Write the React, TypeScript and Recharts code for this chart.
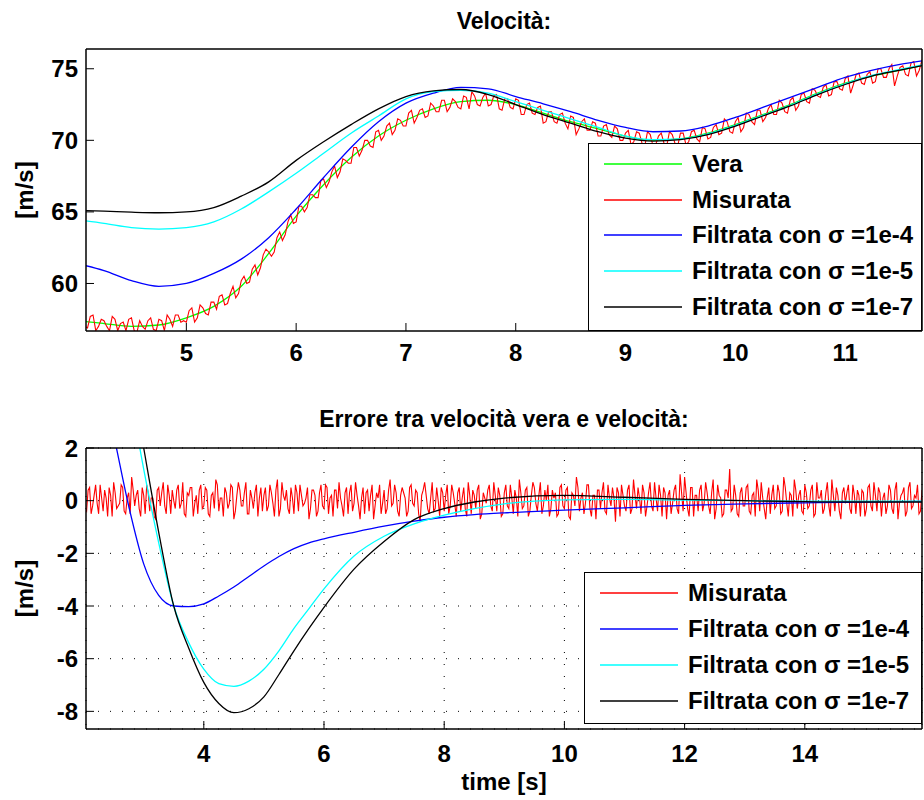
import { LineChart, Line, XAxis, YAxis, CartesianGrid, Legend } from "recharts";

const FONT = '"Liberation Sans", Arial, Helvetica, sans-serif';

// ---- top panel: Velocità ----
const topTicksX = [5, 6, 7, 8, 9, 10, 11];
const topTicksY = [60, 65, 70, 75];
const topTime = [
  4.0, 4.25, 4.5, 4.75, 5.0, 5.25, 5.5, 5.75, 6.0, 6.25, 6.5, 6.75, 7.0, 7.25, 7.5, 7.75,
  8.0, 8.25, 8.5, 8.75, 9.0, 9.25, 9.5, 9.75, 10.0, 10.25, 10.5, 10.75, 11.0, 11.25, 11.5, 11.75,
];
const vera = [
  57.4, 57.2, 57.0, 57.1, 57.6, 58.4, 59.8, 62.1, 64.7, 66.9, 68.8, 70.3, 71.4, 72.2, 72.7, 72.8,
  72.5, 71.9, 71.3, 70.8, 70.3, 70.0, 70.1, 70.5, 71.1, 71.8, 72.5, 73.3, 74.0, 74.5, 74.9, 75.3,
];
const filt4Top = [
  61.4, 60.9, 60.2, 59.8, 60.0, 60.7, 61.7, 63.2, 65.2, 67.4, 69.5, 71.3, 72.6, 73.3, 73.7, 73.6,
  73.06, 72.55, 72.0, 71.4, 70.9, 70.6, 70.65, 71.0, 71.6, 72.3, 73.0, 73.7, 74.4, 74.9, 75.3, 75.6,
];
const filt5Top = [
  64.45, 64.2, 63.9, 63.8, 63.9, 64.3, 65.2, 66.4, 67.7, 69.1, 70.5, 71.7, 72.9, 73.4, 73.5, 73.3,
  72.7, 72.1, 71.5, 70.9, 70.3, 70.05, 70.1, 70.45, 71.05, 71.75, 72.45, 73.25, 73.95, 74.55, 74.95, 75.35,
];
const filt7Top = [
  65.1, 65.05, 64.98, 64.94, 65.0, 65.3, 66.1, 67.1, 68.6, 69.9, 71.1, 72.2, 73.06, 73.45, 73.55, 73.2,
  72.5, 71.8, 71.2, 70.6, 70.15, 69.95, 70.05, 70.4, 71.0, 71.7, 72.4, 73.2, 73.9, 74.5, 74.9, 75.3,
];
// measured speed: samples every 0.05 s from 4.05 s, plus the in-between samples from 4.075 s
const misurataTop = [
  57.7, 56.9, 57.8, 57.0, 57.4, 56.7, 57.5, 57.2, 56.7, 57.6, 56.6, 57.0, 57.4, 56.8, 57.5, 56.7, 57.5, 57.8, 57.3,
  57.3, 58.3, 57.6, 58.3, 57.8, 58.7, 59.1, 58.5, 59.3, 59.0, 60.2, 60.0, 61.0, 60.6, 62.0, 62.2, 62.2, 63.6, 63.4, 64.8,
  64.3, 65.4, 65.3, 66.2, 66.0, 67.3, 67.1, 68.2, 67.8, 68.6, 68.4, 69.5, 69.3, 70.0, 69.5, 70.7, 70.3, 71.2, 70.7, 71.4,
  71.0, 72.1, 71.6, 72.2, 71.7, 72.4, 72.0, 72.8, 72.3, 72.7, 72.2, 73.0, 73.4, 72.5, 73.0, 72.4, 73.1, 72.2, 72.9, 72.3,
  72.9, 71.8, 72.5, 71.9, 72.3, 71.2, 72.0, 71.3, 71.8, 71.2, 71.7, 70.4, 71.3, 70.7, 71.3, 70.3, 71.0, 70.4, 71.0, 70.0,
  70.5, 69.7, 70.6, 69.8, 70.6, 69.6, 70.3, 69.8, 70.6, 69.8, 70.5, 69.7, 70.6, 70.1, 70.9, 70.1, 70.9, 70.4, 71.5, 70.6,
  71.3, 70.6, 71.9, 71.3, 72.1, 71.3, 72.2, 71.8, 72.8, 72.0, 72.8, 72.1, 73.2, 72.7, 73.6, 73.1, 73.7, 73.1, 74.1, 73.6,
  74.3, 73.3, 74.6, 74.0, 74.6, 74.0, 75.0, 74.4, 75.0, 73.8, 75.1, 74.6, 75.4, 74.5, 75.6, 75.1,
];
const misurataTopMid = [
  57.0, 57.7, 56.7, 57.5, 57.0, 57.7, 56.7, 57.3, 57.5, 56.7, 57.4, 56.8, 57.6, 56.7, 57.4, 57.8, 57.0, 57.8, 57.4,
  58.1, 57.3, 58.5, 57.9, 58.7, 58.2, 59.2, 58.6, 59.8, 59.3, 60.5, 60.1, 61.3, 61.1, 62.4, 61.9, 63.2, 63.0, 64.3, 64.2,
  65.4, 65.0, 66.2, 66.0, 67.2, 66.7, 67.8, 67.4, 68.7, 68.4, 69.5, 68.9, 70.0, 69.6, 70.6, 70.0, 71.0, 70.4, 71.5, 71.0,
  71.9, 71.2, 72.1, 71.6, 72.6, 72.0, 72.8, 72.0, 72.9, 72.3, 73.1, 72.2, 73.1, 72.4, 73.3, 72.5, 73.2, 72.1, 72.9, 72.2,
  72.8, 71.8, 72.6, 71.8, 72.4, 71.3, 72.0, 71.2, 71.9, 70.8, 71.6, 70.8, 71.5, 70.7, 71.2, 70.3, 71.1, 70.2, 70.8, 70.0,
  70.7, 69.9, 70.5, 69.6, 70.4, 69.7, 70.5, 69.6, 70.4, 69.6, 70.5, 69.9, 70.7, 69.9, 70.8, 70.2, 71.1, 70.5, 71.3, 70.5,
  71.6, 70.9, 71.8, 71.1, 72.1, 71.6, 72.5, 71.8, 72.6, 71.9, 73.0, 72.4, 73.3, 72.6, 73.5, 73.0, 73.9, 73.2, 74.1, 73.5,
  74.5, 73.9, 74.7, 73.9, 74.8, 74.1, 75.0, 74.4, 75.3, 74.5, 75.2, 74.5, 75.5, 74.9, 75.6,
];

// ---- bottom panel: errore ----
const botTicksX = [4, 6, 8, 10, 12, 14];
const botTicksY = [-8, -6, -4, -2, 0, 2];
const botTime = [
  2.0, 2.25, 2.5, 2.75, 3.0, 3.25, 3.5, 3.75, 4.0, 4.25, 4.5, 4.75, 5.0, 5.25, 5.5, 5.75,
  6.0, 6.5, 7.0, 7.5, 8.0, 8.5, 9.0, 10, 11, 12, 13, 14, 15, 16,
];
const err4 = [
  7.5, 5.0, 2.5, -0.2, -2.4, -3.6, -4.0, -4.02, -3.92, -3.62, -3.28, -2.88, -2.48, -2.12, -1.82, -1.6,
  -1.45, -1.2, -0.97, -0.78, -0.63, -0.53, -0.46, -0.36, -0.27, -0.18, -0.12, -0.08, -0.05, -0.03,
];
const err5 = [
  14, 10.8, 7.6, 4.4, 1.2, -1.6, -4.0, -5.4, -6.4, -6.95, -7.05, -6.85, -6.4, -5.7, -4.85, -4.1,
  -3.35, -2.1, -1.35, -0.88, -0.55, -0.3, -0.12, 0.03, 0.05, 0.02, 0.0, -0.02, -0.02, -0.02,
];
const err7 = [
  15, 11.8, 8.6, 5.3, 2.0, -1.2, -4.0, -5.6, -6.9, -7.7, -8.05, -7.9, -7.45, -6.6, -5.7, -4.85,
  -4.05, -2.6, -1.55, -0.72, -0.3, -0.05, 0.1, 0.2, 0.13, 0.05, 0.0, -0.04, -0.05, -0.05,
];
// measurement error: samples every 0.05 s from 2.0 s, plus the in-between samples from 2.025 s
const errMisurata = [
  0.3, -0.4, 0.5, -0.2, 0.6, -0.5, 0.1, 0.4, -0.6, 0.2, 0.7, -0.3, -0.1, 0.5, -0.5, 0.3, 0.9, -0.2, 0.4, -0.6,
  0.2, 0.6, -0.4, 0.1, -0.7, 0.5, 0.3, -0.2, 0.6, -0.5, 0.0, 0.4, -0.3, 0.7, -0.6, 0.2, 0.5, -0.1, -0.5, 0.6,
  -0.2, 0.4, -0.6, 0.3, 0.8, -0.4, 0.1, 0.5, -0.3, 0.6, -0.7, 0.2, 0.4, -0.2, 0.7, -0.5, 0.1, 0.3, -0.6, 0.5,
  0.2, -0.4, 0.6, -0.1, 0.4, -0.6, 0.7, 0.0, -0.3, 0.5, -0.5, 0.3, 0.6, -0.2, 0.1, -0.7, 0.4, 0.2, -0.4, 0.6,
  -0.3, 0.5, 0.1, -0.6, 0.4, 0.7, -0.2, 0.3, -0.5, 0.6, -0.1, 0.2, -0.7, 0.5, 0.3, -0.4, 0.6, -0.2, 0.1, -0.5,
  0.4, -0.3, 0.8, -0.1, 0.3, -0.6, 0.5, 0.1, -0.4, 0.6, -0.2, 0.3, -0.8, 0.4, 0.2, -0.5, 0.7, -0.3, 0.0, 0.5,
  -0.4, 0.6, -0.2, 0.3, -0.6, 0.5, 0.1, -0.3, 0.7, -0.5, 0.2, 0.4, -0.7, 0.3, -0.1, 0.6, -0.4, 0.2, 0.5, -0.6,
  0.3, -0.2, 0.6, -0.5, 0.1, 0.8, -0.3, 0.4, -0.6, 0.2, 0.5, -0.4, 0.7, -0.2, 0.0, -0.6, 0.4, 0.3, -0.5, 0.6,
  -0.3, 0.5, -0.7, 0.2, 0.9, -0.4, 0.3, -0.1, 0.6, -0.6, 0.2, 0.4, -0.3, 0.7, -0.5, 0.1, 0.5, -0.8, 0.3, 0.6,
  -0.2, 0.4, -0.5, 0.8, -0.3, 0.1, 0.6, -0.6, 0.3, -0.2, 0.7, -0.4, 0.2, 0.5, -0.7, 0.4, -0.1, 0.6, -0.5, 0.3,
  0.9, -0.3, 0.5, -0.6, 0.2, 0.4, -0.4, 0.7, -0.2, 0.3, -0.7, 0.6, 0.1, -0.5, 0.4, 1.2, -0.3, 0.2, -0.6, 0.5,
  -0.2, 0.6, -0.5, 0.3, 0.8, -0.4, 0.1, -0.7, 0.5, 0.2, -0.3, 0.6, -0.5, 0.9, -0.1, 0.3, -0.6, 0.4, 0.2, -0.4,
  0.6, -0.3, 0.4, -0.6, 0.7, 0.1, -0.5, 0.3, -0.2, 0.8, -0.4, 0.2, -0.7, 0.5, 0.3, -0.3, 0.6, -0.5, 0.2, 0.4,
  -0.6, 0.5, -0.2, 0.7, -0.4, 0.3, 0.1, -0.5, 0.6, -0.3, 0.4, -0.7, 0.2, 0.5, -0.4, 0.7, -0.2, 0.1, -0.5, 0.4,
  0.2,
];
const errMisurataMid = [
  -0.3, 0.4, -0.5, 0.2, -0.1, 0.6, -0.4, 0.1, 0.5, -0.6, 0.3, -0.2, 0.6, -0.4, 0.1, -0.5, 0.4, 0.2, -0.3, 0.5,
  -0.5, 0.3, 0.1, -0.6, 0.4, -0.2, 0.7, -0.5, 0.2, 0.4, -0.3, 0.6, -0.1, -0.5, 0.3, 0.5, -0.6, 0.2, 0.4, -0.3,
  0.5, -0.5, 0.2, -0.3, 0.6, 0.1, -0.6, 0.3, -0.1, 0.5, -0.4, 0.7, -0.2, 0.3, -0.5, 0.4, -0.3, 0.6, 0.1, -0.4,
  0.5, -0.2, 0.3, -0.6, 0.8, -0.3, 0.2, 0.4, -0.5, 0.1, 0.6, -0.4, 0.2, -0.1, 0.5, -0.3, 0.4, -0.6, 0.3, -0.2,
  0.6, -0.5, 0.2, 0.4, -0.3, 0.1, -0.6, 0.5, 0.3, -0.4, 0.7, -0.2, 0.1, -0.5, 0.4, 0.2, -0.7, 0.3, 0.6, -0.1,
  -0.5, 0.4, -0.2, 0.6, -0.4, 0.2, 0.3, -0.6, 0.5, -0.1, 0.4, -0.5, 0.2, 0.7, -0.3, 0.1, -0.4, 0.5, -0.6, 0.3,
  0.2, -0.5, 0.6, -0.1, 0.3, -0.4, 0.5, -0.6, 0.2, 0.4, -0.3, 0.6, -0.5, 0.1, 0.4, -0.2, 0.7, -0.4, 0.2, -0.5,
  0.6, -0.3, 0.1, 0.4, -0.6, 0.3, -0.2, 0.5, -0.4, 0.7, -0.1, 0.2, -0.5, 0.4, 0.6, -0.3, 0.1, -0.6, 0.5, -0.2,
  0.4, -0.6, 0.3, -0.2, 0.5, 0.1, -0.5, 0.6, -0.3, 0.2, -0.7, 0.4, 0.3, -0.4, 0.6, -0.2, 0.1, 0.5, -0.6, 0.2,
  -0.4, 0.6, -0.3, 0.2, 0.5, -0.5, 0.3, -0.2, 0.7, -0.4, 0.1, 0.6, -0.6, 0.3, 0.2, -0.5, 0.4, -0.3, 1.0, -0.4,
  0.3, -0.6, 0.5, 0.2, -0.4, 0.6, -0.1, 0.3, -0.5, 0.8, -0.3, 0.2, -0.6, 0.4, 0.1, -0.4, 0.6, -0.5, 0.3, -0.2,
  0.5, -0.4, 0.2, -0.6, 0.4, 0.7, -0.3, 0.1, -0.5, 0.6, -0.2, 0.3, -0.4, 0.5, -0.6, 0.2, 0.8, -0.3, 0.4, -0.5,
  0.3, -0.2, 0.6, -0.5, 0.1, 0.4, -0.3, 0.7, -0.6, 0.2, 0.5, -0.4, 0.3, -0.1, 0.6, -0.5, 0.2, 0.4, -0.6, 0.3,
  -0.3, 0.6, -0.4, 0.2, 0.5, -0.6, 0.3, -0.2, 0.4, -0.5, 0.7, -0.1, 0.3, -0.6, 0.5, -0.3, 0.2, 0.6, -0.4, 0.1,
];

const NAMES = ["Vera", "Misurata", "Filtrata con σ =1e-4", "Filtrata con σ =1e-5", "Filtrata con σ =1e-7"];
const COLORS = ["#00ff00", "#ff0000", "#0000ff", "#00ffff", "#000000"];

const SAMPLE_DT = 0.05;
const onGrid = (t0: number, values: number[]) =>
  values.map((v, i) => ({ t: Math.round((t0 + i * SAMPLE_DT) * 1000) / 1000, v }));
const merged = (a: { t: number; v: number }[], b: { t: number; v: number }[]) =>
  [...a, ...b].sort((p, q) => p.t - q.t);

const topRows = topTime.map((t, i) => ({ t, vera: vera[i], f4: filt4Top[i], f5: filt5Top[i], f7: filt7Top[i] }));
const topMisRows = merged(onGrid(4.05, misurataTop), onGrid(4.075, misurataTopMid));
const botRows = botTime.map((t, i) => ({ t, f4: err4[i], f5: err5[i], f7: err7[i] }));
const botMisRows = merged(onGrid(2.0, errMisurata), onGrid(2.025, errMisurataMid));

const tickStyle = { fill: "#000", fontSize: 24, fontWeight: 700, fontFamily: FONT };
const axisLine = { stroke: "#000", strokeWidth: 1.5 };
const tickLine = { stroke: "#000", strokeWidth: 1 };
const titleStyle = { fill: "#000", fontSize: 23, fontWeight: 700, fontFamily: FONT };
const LW = 1.3;

function MatlabLegend({ items, width, height, rowH }: { items: number[]; width: number; height: number; rowH: number }) {
  return (
    <div
      style={{
        boxSizing: "border-box",
        width,
        height,
        border: "1.5px solid #000",
        background: "#fff",
        paddingTop: 2,
      }}
    >
      {items.map((k) => (
        <div key={k} style={{ display: "flex", alignItems: "center", height: rowH }}>
          <svg width={78} height={6} style={{ marginLeft: 15, display: "block" }}>
            <line x1={0} x2={78} y1={3} y2={3} stroke={COLORS[k]} strokeWidth={1.4} />
          </svg>
          <span
            style={{
              marginLeft: 10,
              fontFamily: FONT,
              fontWeight: 700,
              fontSize: 24,
              lineHeight: 1,
              color: "#000",
              whiteSpace: "nowrap",
            }}
          >
            {NAMES[k]}
          </span>
        </div>
      ))}
    </div>
  );
}

const unitLabel = (props: any) => {
  const vb = props.viewBox;
  const x = vb.x + 7;
  const y = vb.y + vb.height / 2;
  return (
    <text
      x={x}
      y={y}
      transform={`rotate(-90 ${x} ${y})`}
      textAnchor="middle"
      fontFamily={FONT}
      fontSize={24}
      fontWeight={700}
      fill="#000"
    >
      [m/s]
    </text>
  );
};

export default function App() {
  const topDomX: [number, number] = [4.086, 11.7];
  const topDomY: [number, number] = [56.68, 76.38];
  const botDomX: [number, number] = [2.04, 15.95];
  const botDomY: [number, number] = [-8.67, 2];

  return (
    <div style={{ position: "absolute", left: 0, top: 0, width: 924, height: 800, background: "#fff" }}>
      <div style={{ position: "absolute", left: 0, top: 0 }}>
        <LineChart width={924} height={400} margin={{ top: 48, right: 1, bottom: 29, left: 26 }}>
          <XAxis
            type="number"
            dataKey="t"
            domain={topDomX}
            ticks={topTicksX}
            interval={0}
            allowDataOverflow
            height={40}
            axisLine={axisLine}
            tickLine={tickLine}
            tickSize={-8}
            tickMargin={21}
            tick={tickStyle}
          />
          <XAxis
            xAxisId="top"
            orientation="top"
            type="number"
            dataKey="t"
            domain={topDomX}
            ticks={topTicksX}
            interval={0}
            allowDataOverflow
            height={1}
            axisLine={axisLine}
            tickLine={tickLine}
            tickSize={-8}
            tick={false}
            label={{ value: "Velocità:", position: "top", offset: 19, ...titleStyle }}
          />
          <YAxis
            type="number"
            domain={topDomY}
            ticks={topTicksY}
            interval={0}
            allowDataOverflow
            width={60}
            axisLine={axisLine}
            tickLine={tickLine}
            tickSize={-8}
            tickMargin={16}
            tick={tickStyle}
            label={unitLabel}
          />
          <YAxis
            yAxisId="right"
            orientation="right"
            type="number"
            domain={topDomY}
            ticks={topTicksY}
            interval={0}
            allowDataOverflow
            width={1}
            axisLine={axisLine}
            tickLine={tickLine}
            tickSize={-8}
            tick={false}
          />
          <Legend
            layout="vertical"
            align="center"
            verticalAlign="middle"
            wrapperStyle={{ left: 588, top: 143, width: 334 }}
            content={() => <MatlabLegend items={[0, 1, 2, 3, 4]} width={334} height={188} rowH={35.7} />}
          />
          <Line data={topRows} dataKey="vera" name={NAMES[0]} type="monotone" stroke={COLORS[0]} strokeWidth={LW} dot={false} isAnimationActive={false} />
          <Line data={topMisRows} dataKey="v" name={NAMES[1]} type="linear" stroke={COLORS[1]} strokeWidth={1.1} dot={false} isAnimationActive={false} />
          <Line data={topRows} dataKey="f4" name={NAMES[2]} type="monotone" stroke={COLORS[2]} strokeWidth={LW} dot={false} isAnimationActive={false} />
          <Line data={topRows} dataKey="f5" name={NAMES[3]} type="monotone" stroke={COLORS[3]} strokeWidth={LW} dot={false} isAnimationActive={false} />
          <Line data={topRows} dataKey="f7" name={NAMES[4]} type="monotone" stroke={COLORS[4]} strokeWidth={LW} dot={false} isAnimationActive={false} />
        </LineChart>
      </div>

      <div style={{ position: "absolute", left: 0, top: 400 }}>
        <LineChart width={924} height={400} margin={{ top: 47, right: 1, bottom: 11, left: 26 }}>
          <CartesianGrid stroke="#000" strokeDasharray="1 11" />
          <XAxis
            type="number"
            dataKey="t"
            domain={botDomX}
            ticks={botTicksX}
            interval={0}
            allowDataOverflow
            height={60}
            axisLine={axisLine}
            tickLine={tickLine}
            tickSize={-8}
            tickMargin={24}
            tick={tickStyle}
            label={{ value: "time [s]", position: "insideBottom", offset: -1, ...tickStyle }}
          />
          <XAxis
            xAxisId="top"
            orientation="top"
            type="number"
            dataKey="t"
            domain={botDomX}
            ticks={botTicksX}
            interval={0}
            allowDataOverflow
            height={1}
            axisLine={axisLine}
            tickLine={tickLine}
            tickSize={-8}
            tick={false}
            label={{ value: "Errore tra velocità vera e velocità:", position: "top", offset: 20, ...titleStyle }}
          />
          <YAxis
            type="number"
            domain={botDomY}
            ticks={botTicksY}
            interval={0}
            allowDataOverflow
            width={60}
            axisLine={axisLine}
            tickLine={tickLine}
            tickSize={-8}
            tickMargin={16}
            tick={tickStyle}
            label={unitLabel}
          />
          <YAxis
            yAxisId="right"
            orientation="right"
            type="number"
            domain={botDomY}
            ticks={botTicksY}
            interval={0}
            allowDataOverflow
            width={1}
            axisLine={axisLine}
            tickLine={tickLine}
            tickSize={-8}
            tick={false}
          />
          <Legend
            layout="vertical"
            align="center"
            verticalAlign="middle"
            wrapperStyle={{ left: 584, top: 172, width: 338 }}
            content={() => <MatlabLegend items={[1, 2, 3, 4]} width={338} height={152} rowH={36} />}
          />
          <Line data={botMisRows} dataKey="v" name={NAMES[1]} type="linear" stroke={COLORS[1]} strokeWidth={1.1} dot={false} isAnimationActive={false} />
          <Line data={botRows} dataKey="f4" name={NAMES[2]} type="monotone" stroke={COLORS[2]} strokeWidth={LW} dot={false} isAnimationActive={false} />
          <Line data={botRows} dataKey="f5" name={NAMES[3]} type="monotone" stroke={COLORS[3]} strokeWidth={LW} dot={false} isAnimationActive={false} />
          <Line data={botRows} dataKey="f7" name={NAMES[4]} type="monotone" stroke={COLORS[4]} strokeWidth={LW} dot={false} isAnimationActive={false} />
        </LineChart>
      </div>
    </div>
  );
}
